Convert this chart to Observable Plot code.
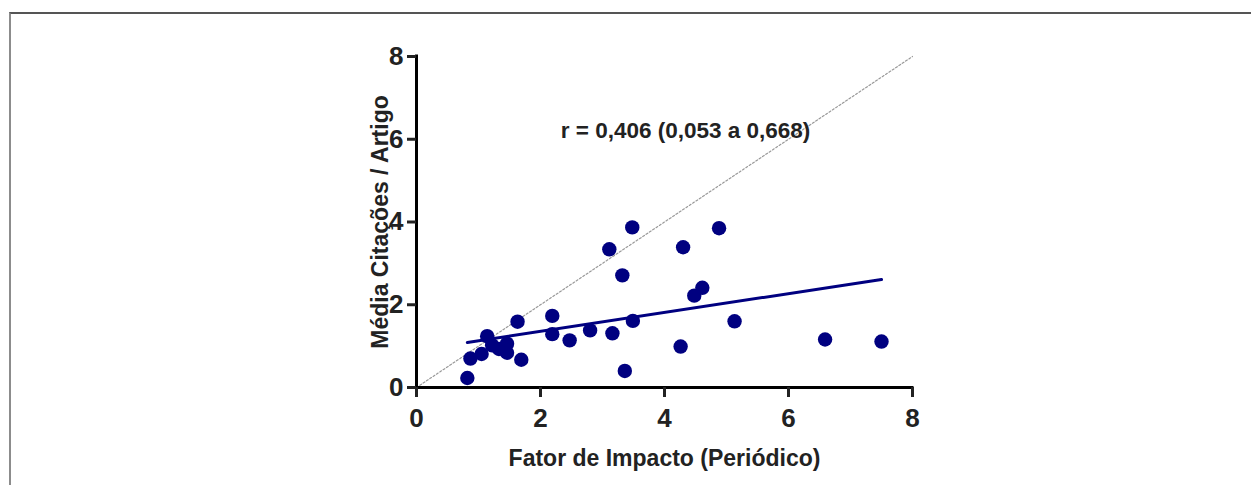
<!DOCTYPE html>
<html>
<head>
<meta charset="utf-8">
<script src="https://cdn.jsdelivr.net/npm/d3@7"></script>
<script src="https://cdn.jsdelivr.net/npm/@observablehq/plot@0.6"></script>
<style>
  html, body { margin: 0; padding: 0; background: #fff; overflow: hidden; width: 1251px; height: 485px; }
  #frame { position: absolute; left: 9px; top: 12px; width: 1300px; height: 600px;
           border-top: 2px solid #555; border-left: 2px solid #8c8c8c; }
  #chart { position: absolute; left: 0; top: 0; }
</style>
</head>
<body>
<div id="frame"></div>
<div id="chart"></div>
<script>
// Fator de Impacto (Periódico) vs Média Citações / Artigo
const impactFactor = [0.82, 0.87, 1.05, 1.14, 1.22, 1.33, 1.46, 1.46, 1.63, 1.69, 2.19, 2.19, 2.47, 2.80, 3.16, 3.11, 3.32, 3.48, 3.36, 3.49, 4.26, 4.30, 4.48, 4.61, 4.88, 5.13, 6.59, 7.50];
const citations    = [0.23, 0.70, 0.81, 1.24, 1.02, 0.93, 1.06, 0.84, 1.59, 0.67, 1.73, 1.29, 1.14, 1.38, 1.31, 3.34, 2.71, 3.87, 0.40, 1.61, 0.99, 3.39, 2.22, 2.41, 3.85, 1.60, 1.16, 1.11];

// fitted regression line endpoints
const fitX = [0.82, 7.50];
const fitY = [1.09, 2.61];

// identity line
const idX = [0, 8];
const idY = [0, 8];

const ticks = [0, 2, 4, 6, 8];
const xTitle = "Fator de Impacto (Periódico)";
const yTitle = "Média Citações / Artigo";
const annotation = ["r = 0,406 (0,053 a 0,668)"];
const annoX = [4.34];
const annoY = [6.2];

const points = impactFactor.map((x, i) => ({x, y: citations[i]}));
const fit = fitX.map((x, i) => ({x, y: fitY[i]}));
const ident = idX.map((x, i) => ({x, y: idY[i]}));

const FONT = '"Liberation Sans", Arial, sans-serif';
const navy = "#000080";

const chart = Plot.plot({
  width: 1251,
  height: 485,
  marginLeft: 416,
  marginRight: 339,
  marginTop: 56,
  marginBottom: 98,
  style: {fontFamily: FONT, fontWeight: "bold", color: "#222", background: "transparent"},
  x: {domain: [0, 8]},
  y: {domain: [0, 8]},
  marks: [
    Plot.line(ident, {x: "x", y: "y", stroke: "#999", strokeWidth: 1.2, strokeDasharray: "2,2"}),
    Plot.ruleY([0], {stroke: "#000", strokeWidth: 3, strokeLinecap: "square"}),
    Plot.ruleX([0], {stroke: "#000", strokeWidth: 3, strokeLinecap: "square"}),
    Plot.axisX({ticks, tickSize: 10, strokeWidth: 3, tickPadding: 11, fontSize: 26, fontWeight: "bold", label: null}),
    Plot.axisX({ticks: [], tickSize: 0, label: xTitle, labelArrow: "none", labelAnchor: "center", labelOffset: 78, fontSize: 23, fontWeight: "bold"}),
    Plot.axisY({ticks, tickSize: 9, strokeWidth: 3, tickPadding: 4, fontSize: 26, fontWeight: "bold", label: null}),
    Plot.axisY({ticks: [], tickSize: 0, label: yTitle, labelArrow: "none", labelAnchor: "center", labelOffset: 45, fontSize: 23, fontWeight: "bold"}),
    Plot.line(fit, {x: "x", y: "y", stroke: navy, strokeWidth: 3}),
    Plot.dot(points, {x: "x", y: "y", r: 7.2, fill: navy, stroke: "none"}),
    Plot.text(annotation, {x: annoX, y: annoY, text: d => d, fontSize: 22.5, fontWeight: "bold", fill: "#222"})
  ]
});
document.getElementById("chart").appendChild(chart);
</script>
</body>
</html>
